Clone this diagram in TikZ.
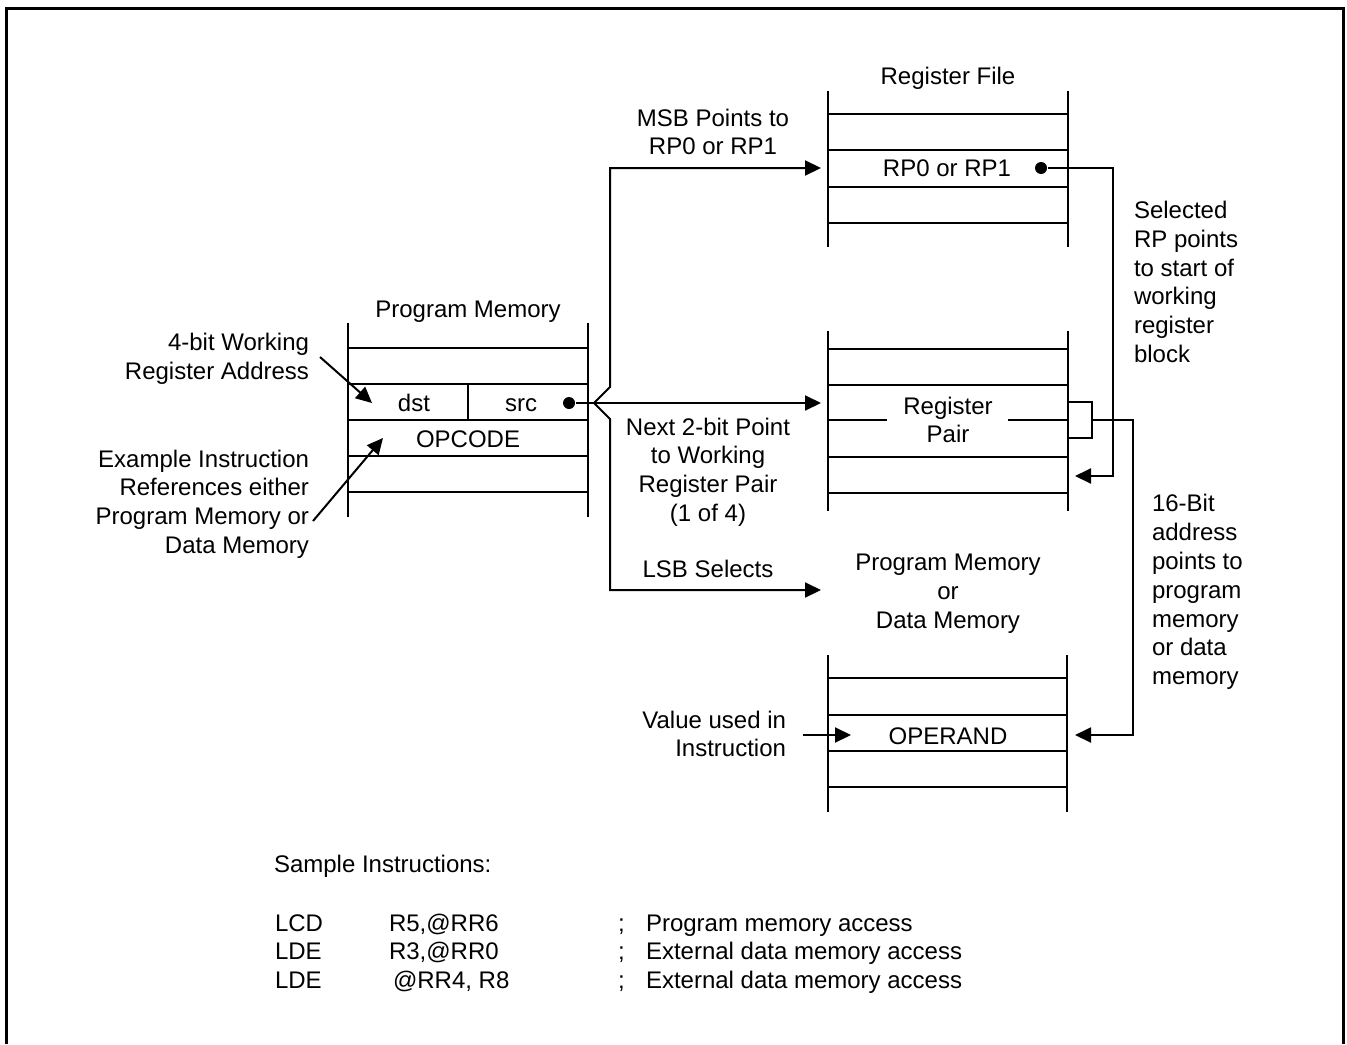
\documentclass[tikz,border=0pt]{standalone}
\usepackage{fontspec}
\setmainfont{Liberation Sans}
\usetikzlibrary{arrows.meta, positioning}

\begin{document}
\begin{tikzpicture}[x=0.5pt, y=-0.5pt, line width=1pt, >={Triangle[length=8pt,width=7.5pt]},
  lbl/.style={inner sep=0pt, font=\fontsize{12}{14.4}\selectfont, align=center},
  lblr/.style={lbl, anchor=east, align=right},
  lbll/.style={lbl, anchor=west, align=left},
  tab/.style={lbl, anchor=base west},
  dot/.style={circle, fill, inner sep=0pt, minimum size=6pt}]
  \useasboundingbox (0,0) rectangle (1347,1044);
  % outer frame (open at the bottom)
  \draw[line width=1.5pt] (6,1044) -- (6,8) -- (1343,8) -- (1343,1044);

  % program memory
  \draw (348,323) -- (348,517) (588,323) -- (588,517);
  \foreach \y in {348,384,420,456,492} \draw (348,\y) -- (588,\y);
  \draw (468,384) -- (468,420);
  \node[lbl] (pmtitle) at (468,312) {Program Memory};
  \node[lbl, anchor=base] (dst) at (414,411) {dst};
  \node[lbl, anchor=base] (src) at (521,411) {src};
  \node[lbl, anchor=base] (opcode) at (468,447) {OPCODE};
  \node[dot] (srcdot) at (569,403) {};

  % register file
  \draw (828,91) -- (828,247) (1068,91) -- (1068,247);
  \foreach \y in {114,150,187,223} \draw (828,\y) -- (1068,\y);
  \node[lbl] (rftitle) at (948,78) {Register File};
  \node[lbl] (rp) at (947,168) {RP0 or RP1};
  \node[dot] (rpdot) at (1041,168) {};

  % working register block
  \draw (828,331) -- (828,511) (1068,331) -- (1068,511);
  \foreach \y in {349,385,457,493} \draw (828,\y) -- (1068,\y);
  \draw (828,420) -- (887,420) (1008,420) -- (1068,420);
  \node[lbl] (pair) at (948,420) {Register\\Pair};
  \draw (1068,402) -- (1092,402) -- (1092,438) -- (1068,438);
  \coordinate (brk) at (1092,420);

  % program or data memory
  \draw (828,655) -- (828,812) (1067,655) -- (1067,812);
  \foreach \y in {678,715,751,787} \draw (828,\y) -- (1067,\y);
  \node[lbl] (pdtitle) at (948,594) {Program Memory\\or\\Data Memory};
  \node[lbl] (operand) at (948,736) {OPERAND};

  % labels
  \node[lbl] (msb) at (713,132) {MSB Points to\\RP0 or RP1};
  \node[lbl] (next) at (708,472) {Next 2-bit Point\\to Working\\Register Pair\\(1 of 4)};
  \node[lbl] (lsb) at (708,569) {LSB Selects};
  \node[lbll] (selrp) at (1133,282) {Selected\\RP points\\to start of\\working\\register\\block};
  \node[lbll] (addr) at (1151,592) {16-Bit\\address\\points to\\program\\memory\\or data\\memory};
  \node[lblr] (wra) at (310,359) {4-bit Working\\Register Address};
  \node[lblr] (exins) at (310,504) {Example Instruction\\References either\\Program Memory or\\Data Memory};
  \node[lblr] (value) at (787,734) {Value used in\\Instruction};

  % connectors
  \coordinate (fork) at (594,403);
  \coordinate (rfin) at (821,168);
  \coordinate (pairin) at (821,403);
  \coordinate (pdin) at (821,590);
  \coordinate (pairret) at (1075,476);
  \coordinate (opret) at (1075,735);
  \coordinate (valstart) at (803,735);
  \coordinate (valend) at (851,735);
  \draw (srcdot) -- (fork);
  \draw[->] (fork) -- (610,387) -- (610,168) -- (rfin);
  \draw[->] (fork) -- (pairin);
  \draw[->] (fork) -- (610,419) -- (610,590) -- (pdin);
  \draw[->] (rpdot) -- (1113,168) -- (1113,476) -- (pairret);
  \draw[->] (brk) -- (1133,420) -- (1133,735) -- (opret);
  \draw[->] (valstart) -- (valend);
  \draw[->] (320,357) -- (372,403);
  \draw[->] (313,521) -- (383,438);

  % sample instructions
  \node[lbll] (sample) at (273,866) {Sample Instructions:};
  \node[tab] (op1) at (274,931) {LCD};
  \node[tab] (arg1) at (388,931) {R5,@RR6};
  \node[tab] (sc1) at (617,931) {;};
  \node[tab] (cm1) at (645,931) {Program memory access};
  \node[tab] (op2) at (274,959) {LDE};
  \node[tab] (arg2) at (388,959) {R3,@RR0};
  \node[tab] (sc2) at (617,959) {;};
  \node[tab] (cm2) at (645,959) {External data memory access};
  \node[tab] (op3) at (274,988) {LDE};
  \node[tab] (arg3) at (392,988) {@RR4, R8};
  \node[tab] (sc3) at (617,988) {;};
  \node[tab] (cm3) at (645,988) {External data memory access};
\end{tikzpicture}
\end{document}
